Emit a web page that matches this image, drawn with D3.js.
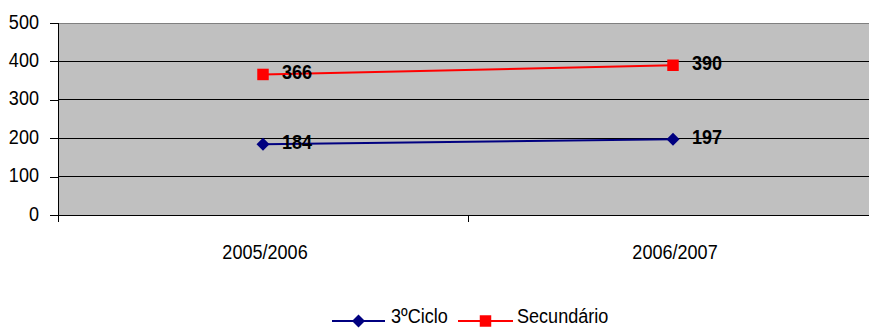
<!DOCTYPE html>
<html>
<head>
<meta charset="utf-8">
<script src="https://cdn.jsdelivr.net/npm/d3@7"></script>
<style>
  html, body { margin: 0; padding: 0; background: #fff; }
  svg { display: block; font-family: "Liberation Sans", Arial, sans-serif; }
</style>
</head>
<body>
<svg id="chart" width="869" height="328"></svg>
<script>
// Anos lectivos e número de alunos por nível de ensino
const categories = ["2005/2006", "2006/2007"];
const ciclo3 = [184, 197];
const secundario = [366, 390];
const yTicks = [0, 100, 200, 300, 400, 500];

// Losango e quadrado como marcadores
const diamond = { draw(ctx, size) { const r = Math.sqrt(size) / 2; ctx.moveTo(0, -r); ctx.lineTo(r, 0); ctx.lineTo(0, r); ctx.lineTo(-r, 0); ctx.closePath(); } };

const series = [
  { name: "3ºCiclo", values: ciclo3, color: "#000080", symbol: diamond, size: 169 },
  { name: "Secundário", values: secundario, color: "#FF0000", symbol: d3.symbolSquare, size: 132 }
];

const svg = d3.select("#chart");
const plot = { left: 58, right: 878, top: 23, bottom: 215 };
const FONT = 21, SX = 0.86;

const x = d3.scaleBand().domain(categories).range([plot.left, plot.right]);
const y = d3.scaleLinear().domain([0, 500]).range([plot.bottom, plot.top]);

// Texto ligeiramente condensado
function label(parent, tx, ty, str, anchor, bold) {
  return parent.append("text")
    .attr("transform", `translate(${tx},${ty}) scale(${SX},1)`)
    .attr("text-anchor", anchor || "start")
    .attr("font-size", FONT)
    .attr("font-weight", bold ? "bold" : "normal")
    .attr("fill", "#000")
    .text(str);
}

// Área do gráfico
svg.append("rect")
  .attr("x", plot.left).attr("y", plot.top)
  .attr("width", plot.right - plot.left).attr("height", plot.bottom - plot.top)
  .attr("fill", "#C0C0C0");

// Linhas de grelha
svg.append("g").selectAll("line")
  .data(yTicks.filter(t => t > 0 && t < 500))
  .join("line")
  .attr("x1", plot.left).attr("x2", plot.right)
  .attr("y1", d => y(d)).attr("y2", d => y(d))
  .attr("stroke", "#000").attr("stroke-width", 1).attr("shape-rendering", "crispEdges");

// Contorno superior
svg.append("line")
  .attr("x1", plot.left).attr("x2", plot.right)
  .attr("y1", y(500)).attr("y2", y(500))
  .attr("stroke", "#808080").attr("stroke-width", 1).attr("shape-rendering", "crispEdges");

// Eixo Y
const yAxis = svg.append("g")
  .attr("transform", `translate(${plot.left},0)`)
  .call(d3.axisLeft(y).tickValues(yTicks).tickSize(8).tickFormat(""));
yAxis.select(".domain").remove();
yAxis.selectAll(".tick line").attr("stroke", "#000").attr("shape-rendering", "crispEdges");
svg.append("line")
  .attr("x1", plot.left).attr("x2", plot.left).attr("y1", plot.top).attr("y2", plot.bottom + 7)
  .attr("stroke", "#000").attr("shape-rendering", "crispEdges");
const yLabels = svg.append("g");
yTicks.forEach(t => label(yLabels, 39, y(t) + 5.5, t, "end"));

// Eixo X
svg.append("line")
  .attr("x1", plot.left).attr("x2", plot.right)
  .attr("y1", plot.bottom).attr("y2", plot.bottom)
  .attr("stroke", "#000").attr("shape-rendering", "crispEdges");
const xBoundaries = categories.map(c => x(c)).concat([x(categories[categories.length - 1]) + x.bandwidth()]);
svg.append("g").selectAll("line")
  .data(xBoundaries)
  .join("line")
  .attr("x1", d => d).attr("x2", d => d)
  .attr("y1", plot.bottom).attr("y2", plot.bottom + 7)
  .attr("stroke", "#000").attr("shape-rendering", "crispEdges");
const xLabels = svg.append("g");
categories.forEach(c => label(xLabels, x(c) + x.bandwidth() / 2 + 2, 259, c, "middle"));

// Séries
const cx = c => x(c) + x.bandwidth() / 2;
const line = d3.line().x((d, i) => cx(categories[i])).y(d => y(d));

series.forEach(s => {
  const g = svg.append("g");
  g.append("path")
    .attr("d", line(s.values))
    .attr("fill", "none")
    .attr("stroke", s.color)
    .attr("stroke-width", 2);
  g.selectAll("path.marker")
    .data(s.values)
    .join("path")
    .attr("class", "marker")
    .attr("transform", (d, i) => `translate(${cx(categories[i])},${y(d)})`)
    .attr("d", d3.symbol().type(s.symbol).size(s.size))
    .attr("fill", s.color);
  s.values.forEach((v, i) => label(g, cx(categories[i]) + 19, y(v) + 5, v, "start", true));
});

// Legenda
const legendY = 321;
const legendItems = [
  { s: series[0], x0: 332, x1: 385, tx: 391 },
  { s: series[1], x0: 458, x1: 513, tx: 517 }
];
const legend = svg.append("g");
legendItems.forEach(it => {
  legend.append("line")
    .attr("x1", it.x0).attr("x2", it.x1)
    .attr("y1", legendY).attr("y2", legendY)
    .attr("stroke", it.s.color).attr("stroke-width", 2);
  legend.append("path")
    .attr("transform", `translate(${(it.x0 + it.x1) / 2},${legendY})`)
    .attr("d", d3.symbol().type(it.s.symbol).size(it.s.size))
    .attr("fill", it.s.color);
  label(legend, it.tx, 323, it.s.name, "start");
});
</script>
</body>
</html>
